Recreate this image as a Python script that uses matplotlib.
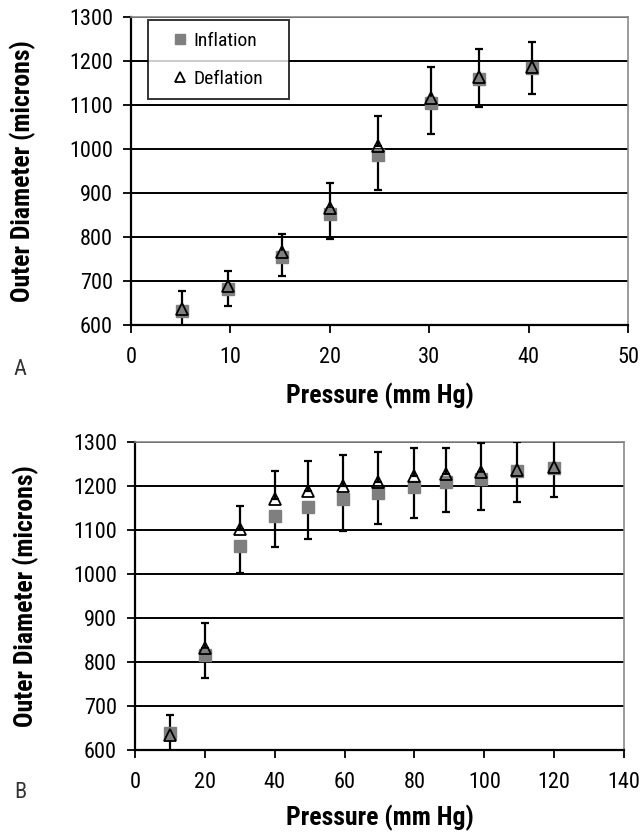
import matplotlib
matplotlib.use("Agg")
import matplotlib.pyplot as plt
from matplotlib import font_manager as fm

# ---------------- data ----------------
# Panel A
a_pressure = [5.1, 9.8, 15.2, 20.0, 24.8, 30.2, 35.0, 40.3]
a_infl = [632, 682, 754, 852, 986, 1104, 1158, 1185]
a_infl_err = [36, 38, 42, 57, 80, 71, 62, 59]
a_defl = [636, 688, 766, 866, 1006, 1116, 1164, 1187]
a_defl_err = [42, 35, 41, 56, 70, 71, 64, 57]

# Panel B
b_pressure = [10, 20, 30, 40, 49.6, 59.5, 69.5, 80, 89, 99, 109.4, 120]
b_infl = [638, 815, 1063, 1132, 1152, 1170, 1184, 1198, 1209, 1216, 1233, 1241]
b_infl_err = [55, 52, 61, 71, 72, 72, 70, 70, 68, 71, 70, 66]
b_defl = [634, 832, 1103, 1170, 1189, 1200, 1209, 1222, 1227, 1232, 1236, 1243]
b_defl_err = [46, 57, 52, 64, 68, 70, 68, 65, 60, 66, 64, 62]

a_xticks = [0, 10, 20, 30, 40, 50]
b_xticks = [0, 20, 40, 60, 80, 100, 120, 140]
yticks = [600, 700, 800, 900, 1000, 1100, 1200, 1300]

series_labels = ["Inflation", "Deflation"]
xlabel = "Pressure (mm Hg)"
ylabel = "Outer Diameter (microns)"
panel_labels = ["A", "B"]

# ---------------- fonts ----------------
avail = {f.name for f in fm.fontManager.ttflist}
family = "Liberation Sans"
for cand in ["Liberation Sans Narrow", "Roboto Condensed", "Open Sans Condensed",
             "Noto Sans Condensed", "Arial Narrow"]:
    if cand in avail:
        family = cand
        break
plt.rcParams["font.family"] = [family, "DejaVu Sans"]

fig = plt.figure(figsize=(6.41, 8.36), dpi=100)


def setup(ax, xticks, xlim, xlab_y, ylab_x):
    ax.set_xlim(*xlim)
    ax.set_ylim(600, 1300)
    ax.set_xticks(xticks)
    ax.set_yticks(yticks)
    ax.tick_params(direction="out", length=6, width=1.3, labelsize=16, colors="black")
    ax.tick_params(axis="x", pad=10)
    ax.tick_params(axis="y", pad=7)
    for y in yticks[1:]:
        ax.axhline(y, color="black", lw=1.4, zorder=1)
    ax.spines["left"].set_linewidth(1.6)
    ax.spines["bottom"].set_linewidth(1.6)
    for s in ("top", "right"):
        ax.spines[s].set_color("#8a8a8a")
        ax.spines[s].set_linewidth(1.2)
    ax.set_xlabel(xlabel, fontsize=18.5, fontweight="bold")
    ax.set_ylabel(ylabel, fontsize=18.5, fontweight="bold")
    ax.xaxis.set_label_coords(0.5, xlab_y)
    ax.xaxis.label.set_va("center")
    ax.yaxis.set_label_coords(ylab_x, 0.5)
    ax.yaxis.label.set_va("center")
    ax.yaxis.label.set_ha("center")


def plot_series(ax, x, yi, ei, yd, ed):
    ax.errorbar(x, yi, yerr=[ei, [0] * len(ei)], fmt="none", ecolor="black",
                elinewidth=1.6, capsize=3, capthick=1.6, zorder=3)
    ax.errorbar(x, yd, yerr=[[0] * len(ed), ed], fmt="none", ecolor="black",
                elinewidth=1.6, capsize=3, capthick=1.6, zorder=3)
    ax.plot(x, yi, ls="none", marker="s", ms=8, mfc="#7f7f7f", mec="#7f7f7f",
            label=series_labels[0], zorder=4)
    ax.plot(x, yd, ls="none", marker="^", ms=8, mfc="none", mec="black",
            mew=1.3, label=series_labels[1], zorder=5)


# Panel A
axA = fig.add_axes([131 / 641, 1 - 325 / 836, 497 / 641, 308 / 836])
setup(axA, a_xticks, (0, 50), -0.23, -0.217)
plot_series(axA, a_pressure, a_infl, a_infl_err, a_defl, a_defl_err)
leg = axA.legend(loc="upper left", bbox_to_anchor=(0.034, 0.5, 0.284, 0.49),
                 mode="expand", frameon=True, fancybox=False, edgecolor="black",
                 fontsize=14, handlelength=2.13, handletextpad=-0.40,
                 labelspacing=1.02, borderpad=0.6, borderaxespad=0,
                 markerscale=0.9)
leg.get_frame().set_linewidth(1.4)
leg.set_zorder(6)
fig.text(20 / 641, 1 - 370 / 836, panel_labels[0], fontsize=16, color="#333333",
         va="center", ha="center")

# Panel B
axB = fig.add_axes([135 / 641, 1 - 750 / 836, 489 / 641, 308 / 836])
setup(axB, b_xticks, (0, 140), -0.221, -0.224)
plot_series(axB, b_pressure, b_infl, b_infl_err, b_defl, b_defl_err)
fig.text(20 / 641, 1 - 793 / 836, panel_labels[1], fontsize=16, color="#333333",
         va="center", ha="center")

fig.savefig("out.png", dpi=100)
